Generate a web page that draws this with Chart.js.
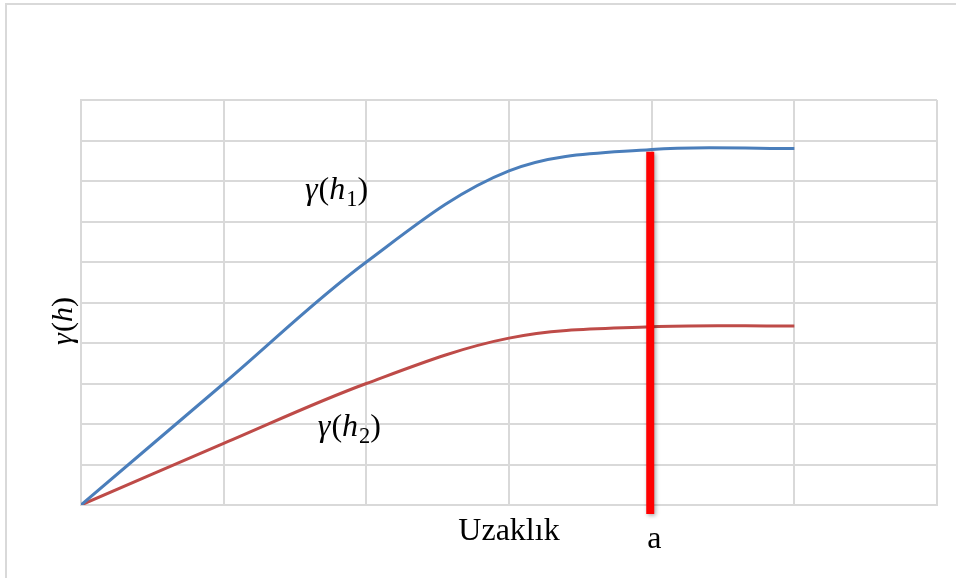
<!DOCTYPE html>
<html>
<head>
<meta charset="utf-8">
<title>γ(h)</title>
<script src="https://cdn.jsdelivr.net/npm/chart.js@4/dist/chart.umd.min.js"></script>
<style>
  html, body { margin: 0; padding: 0; background: #ffffff; }
  canvas { display: block; }
</style>
</head>
<body>
<canvas id="chart" width="956" height="578"></canvas>
<script>
// Lag positions (x axis, one per vertical gridline)
const lags = [0, 1, 2, 3, 4, 5];
// Semivariogram values for the two curves
const gamma1 = [0, 3.0, 6.0, 8.25, 8.78, 8.8];
const gamma2 = [0, 1.52, 3.0, 4.12, 4.4, 4.42];
// Range marker "a": lag position and vertical extent
const rangeLag = 3.99;
const rangeSpan = [8.72, -0.22];
// Axis extents
const xMax = 6;
const yMax = 10;

const serif = '"Liberation Serif", "Times New Roman", serif';
const gridColor = '#d9d9d9';

const toPoints = (xs, ys) => xs.map((x, i) => ({ x: x, y: ys[i] }));

// Draws a run of text pieces (italic / subscript) starting at (x, y) baseline
function drawRich(ctx, parts, x, y, size) {
  let cx = x;
  parts.forEach(p => {
    const s = p.sub ? size * 0.7 : size;
    ctx.font = (p.italic ? 'italic ' : '') + s + 'px ' + serif;
    const dy = p.sub ? size * 0.2 : 0;
    ctx.fillText(p.t, cx, y + dy);
    cx += ctx.measureText(p.t).width + (p.gap || 0);
  });
  return cx - x;
}
function richWidth(ctx, parts, size) {
  let w = 0;
  parts.forEach(p => {
    const s = p.sub ? size * 0.7 : size;
    ctx.font = (p.italic ? 'italic ' : '') + s + 'px ' + serif;
    w += ctx.measureText(p.t).width + (p.gap || 0);
  });
  return w;
}

const framePlugin = {
  id: 'frame',
  beforeDraw(chart) {
    const ctx = chart.ctx;
    ctx.save();
    ctx.fillStyle = '#ffffff';
    ctx.fillRect(0, 0, chart.width, chart.height);
    ctx.strokeStyle = gridColor;
    ctx.lineWidth = 2;
    ctx.beginPath();
    ctx.moveTo(6, chart.height);
    ctx.lineTo(6, 4);
    ctx.lineTo(chart.width, 4);
    ctx.stroke();
    ctx.restore();
  }
};

const shadowPlugin = {
  id: 'markShadow',
  beforeDatasetDraw(chart, args) {
    if (args.index !== 0) return;
    const ctx = chart.ctx;
    ctx.save();
    ctx.shadowColor = 'rgba(0,0,0,0.35)';
    ctx.shadowBlur = 4;
    ctx.shadowOffsetX = 1.5;
    ctx.shadowOffsetY = 1.5;
  },
  afterDatasetDraw(chart, args) {
    if (args.index !== 0) return;
    chart.ctx.restore();
  }
};

const labelPlugin = {
  id: 'labels',
  afterDraw(chart) {
    const ctx = chart.ctx;
    const xs = chart.scales.x, ys = chart.scales.y;
    const area = chart.chartArea;
    ctx.save();
    ctx.fillStyle = '#000000';
    ctx.textBaseline = 'alphabetic';
    ctx.textAlign = 'left';

    // Curve labels
    drawRich(ctx, [
      { t: 'γ', italic: true, gap: 1 }, { t: '(' }, { t: 'h', italic: true, gap: 1 }, { t: '1', sub: true }, { t: ')' }
    ], xs.getPixelForValue(1.57), ys.getPixelForValue(7.55), 32);
    drawRich(ctx, [
      { t: 'γ', italic: true, gap: 1 }, { t: '(' }, { t: 'h', italic: true, gap: 1 }, { t: '2', sub: true }, { t: ')' }
    ], xs.getPixelForValue(1.66), ys.getPixelForValue(1.7), 32);

    // X axis title
    ctx.font = '32px ' + serif;
    ctx.textAlign = 'center';
    ctx.fillText('Uzaklık', xs.getPixelForValue(3), area.bottom + 35);

    // Range label
    ctx.fillText('a', xs.getPixelForValue(rangeLag) + 4, area.bottom + 43);

    // Y axis title, rotated
    const yParts = [{ t: 'γ', italic: true, gap: 1 }, { t: '(' }, { t: 'h', italic: true }, { t: ')' }];
    ctx.textAlign = 'left';
    const w = richWidth(ctx, yParts, 30);
    ctx.translate(72, 321);
    ctx.rotate(-Math.PI / 2);
    drawRich(ctx, yParts, -w / 2, 0, 30);
    ctx.restore();
  }
};

new Chart(document.getElementById('chart'), {
  type: 'line',
  data: {
    datasets: [
      {
        label: 'a',
        data: [{ x: rangeLag, y: rangeSpan[0] }, { x: rangeLag, y: rangeSpan[1] }],
        borderColor: '#ff0000',
        borderWidth: 8,
        borderCapStyle: 'butt',
        pointRadius: 0,
        tension: 0,
        clip: false,
        order: 0
      },
      {
        label: 'γ(h1)',
        data: toPoints(lags, gamma1),
        borderColor: '#4a7ebb',
        borderWidth: 3,
        pointRadius: 0,
        tension: 0.35,
        order: 1
      },
      {
        label: 'γ(h2)',
        data: toPoints(lags, gamma2),
        borderColor: '#be4b48',
        borderWidth: 3,
        pointRadius: 0,
        tension: 0.35,
        order: 2
      }
    ]
  },
  options: {
    responsive: false,
    devicePixelRatio: 1,
    animation: false,
    layout: { padding: { left: 81, top: 100, right: 19, bottom: 73 } },
    plugins: { legend: { display: false }, tooltip: { enabled: false } },
    scales: {
      x: {
        type: 'linear',
        min: 0,
        max: xMax,
        ticks: { display: false, stepSize: 1 },
        grid: { color: gridColor, lineWidth: 2, drawTicks: false },
        border: { color: gridColor, width: 2 }
      },
      y: {
        type: 'linear',
        min: 0,
        max: yMax,
        ticks: { display: false, stepSize: 1 },
        grid: { color: gridColor, lineWidth: 2, drawTicks: false },
        border: { color: gridColor, width: 2 }
      }
    }
  },
  plugins: [framePlugin, shadowPlugin, labelPlugin]
});
</script>
</body>
</html>
